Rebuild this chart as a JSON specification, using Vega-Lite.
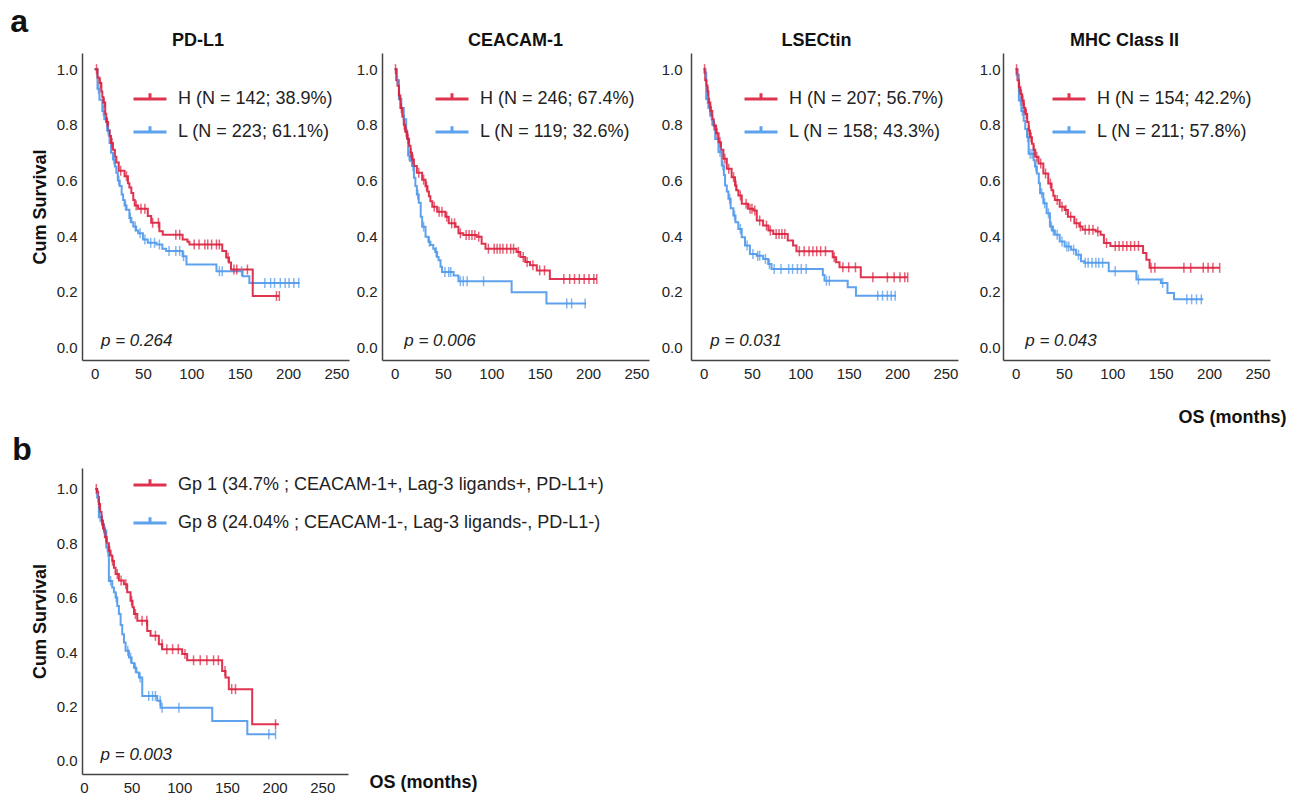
{
"$schema": "https://vega.github.io/schema/vega-lite/v6.json",
"background": "white",
"padding": {"left": 10, "top": 6, "right": 5, "bottom": 5},
"config": {
  "font": "Liberation Sans",
  "view": {"stroke": null},
  "axis": {"domainColor": "#444", "domainWidth": 1.5, "ticks": false, "grid": false, "labelFont": "Liberation Sans", "labelFontSize": 15, "labelColor": "#222", "labelFlush": false, "titleFont": "Liberation Sans", "titleFontSize": 18, "titleFontWeight": "bold", "titleColor": "#111"},
  "title": {"font": "Liberation Sans", "color": "#111"},
  "legend": {"labelFont": "Liberation Sans"}
},
"datasets": {
"steps": [
{"p":"PD-L1","g":"L","t":0,"s":1},{"p":"PD-L1","g":"L","t":3,"s":0.93},{"p":"PD-L1","g":"L","t":5,"s":0.89},{"p":"PD-L1","g":"L","t":8,"s":0.85},{"p":"PD-L1","g":"L","t":10,"s":0.82},{"p":"PD-L1","g":"L","t":13,"s":0.78},{"p":"PD-L1","g":"L","t":15.5,"s":0.735},{"p":"PD-L1","g":"L","t":17,"s":0.7},{"p":"PD-L1","g":"L","t":19,"s":0.675},{"p":"PD-L1","g":"L","t":21,"s":0.65},{"p":"PD-L1","g":"L","t":22.5,"s":0.628},{"p":"PD-L1","g":"L","t":24,"s":0.6},{"p":"PD-L1","g":"L","t":26,"s":0.58},{"p":"PD-L1","g":"L","t":28,"s":0.55},{"p":"PD-L1","g":"L","t":29.5,"s":0.53},{"p":"PD-L1","g":"L","t":31,"s":0.51},{"p":"PD-L1","g":"L","t":33,"s":0.495},{"p":"PD-L1","g":"L","t":36,"s":0.465},{"p":"PD-L1","g":"L","t":38,"s":0.45},{"p":"PD-L1","g":"L","t":40,"s":0.435},{"p":"PD-L1","g":"L","t":43,"s":0.42},{"p":"PD-L1","g":"L","t":45,"s":0.41},{"p":"PD-L1","g":"L","t":50,"s":0.388},{"p":"PD-L1","g":"L","t":55,"s":0.376},{"p":"PD-L1","g":"L","t":64,"s":0.37},{"p":"PD-L1","g":"L","t":70,"s":0.355},{"p":"PD-L1","g":"L","t":74,"s":0.347},{"p":"PD-L1","g":"L","t":91,"s":0.328},{"p":"PD-L1","g":"L","t":95,"s":0.298},{"p":"PD-L1","g":"L","t":126,"s":0.274},{"p":"PD-L1","g":"L","t":153,"s":0.256},{"p":"PD-L1","g":"L","t":160,"s":0.232},{"p":"PD-L1","g":"L","t":212,"s":0.232},
{"p":"PD-L1","g":"H","t":0,"s":1},{"p":"PD-L1","g":"H","t":3,"s":0.97},{"p":"PD-L1","g":"H","t":5,"s":0.95},{"p":"PD-L1","g":"H","t":7,"s":0.92},{"p":"PD-L1","g":"H","t":8,"s":0.9},{"p":"PD-L1","g":"H","t":9,"s":0.88},{"p":"PD-L1","g":"H","t":11,"s":0.84},{"p":"PD-L1","g":"H","t":12,"s":0.81},{"p":"PD-L1","g":"H","t":14,"s":0.78},{"p":"PD-L1","g":"H","t":15.5,"s":0.76},{"p":"PD-L1","g":"H","t":17,"s":0.735},{"p":"PD-L1","g":"H","t":19,"s":0.71},{"p":"PD-L1","g":"H","t":21,"s":0.685},{"p":"PD-L1","g":"H","t":22.5,"s":0.665},{"p":"PD-L1","g":"H","t":25,"s":0.635},{"p":"PD-L1","g":"H","t":31,"s":0.615},{"p":"PD-L1","g":"H","t":34.5,"s":0.59},{"p":"PD-L1","g":"H","t":36,"s":0.575},{"p":"PD-L1","g":"H","t":38,"s":0.555},{"p":"PD-L1","g":"H","t":40,"s":0.53},{"p":"PD-L1","g":"H","t":41.5,"s":0.51},{"p":"PD-L1","g":"H","t":45,"s":0.498},{"p":"PD-L1","g":"H","t":55,"s":0.472},{"p":"PD-L1","g":"H","t":58.5,"s":0.448},{"p":"PD-L1","g":"H","t":67,"s":0.418},{"p":"PD-L1","g":"H","t":70.5,"s":0.405},{"p":"PD-L1","g":"H","t":91,"s":0.388},{"p":"PD-L1","g":"H","t":96,"s":0.38},{"p":"PD-L1","g":"H","t":98,"s":0.37},{"p":"PD-L1","g":"H","t":132,"s":0.347},{"p":"PD-L1","g":"H","t":136,"s":0.323},{"p":"PD-L1","g":"H","t":139,"s":0.305},{"p":"PD-L1","g":"H","t":141,"s":0.28},{"p":"PD-L1","g":"H","t":163.5,"s":0.185},{"p":"PD-L1","g":"H","t":191,"s":0.185},
{"p":"CEACAM-1","g":"L","t":0,"s":1},{"p":"CEACAM-1","g":"L","t":2,"s":0.96},{"p":"CEACAM-1","g":"L","t":4.5,"s":0.893},{"p":"CEACAM-1","g":"L","t":7,"s":0.86},{"p":"CEACAM-1","g":"L","t":9.5,"s":0.82},{"p":"CEACAM-1","g":"L","t":12,"s":0.78},{"p":"CEACAM-1","g":"L","t":13,"s":0.75},{"p":"CEACAM-1","g":"L","t":14,"s":0.69},{"p":"CEACAM-1","g":"L","t":16,"s":0.67},{"p":"CEACAM-1","g":"L","t":18,"s":0.652},{"p":"CEACAM-1","g":"L","t":20,"s":0.61},{"p":"CEACAM-1","g":"L","t":21.5,"s":0.58},{"p":"CEACAM-1","g":"L","t":23,"s":0.55},{"p":"CEACAM-1","g":"L","t":25,"s":0.52},{"p":"CEACAM-1","g":"L","t":27,"s":0.47},{"p":"CEACAM-1","g":"L","t":28.5,"s":0.434},{"p":"CEACAM-1","g":"L","t":32,"s":0.398},{"p":"CEACAM-1","g":"L","t":35,"s":0.38},{"p":"CEACAM-1","g":"L","t":37,"s":0.368},{"p":"CEACAM-1","g":"L","t":40,"s":0.355},{"p":"CEACAM-1","g":"L","t":42,"s":0.343},{"p":"CEACAM-1","g":"L","t":44,"s":0.325},{"p":"CEACAM-1","g":"L","t":45.5,"s":0.313},{"p":"CEACAM-1","g":"L","t":47.5,"s":0.29},{"p":"CEACAM-1","g":"L","t":49,"s":0.271},{"p":"CEACAM-1","g":"L","t":61,"s":0.259},{"p":"CEACAM-1","g":"L","t":66,"s":0.238},{"p":"CEACAM-1","g":"L","t":121,"s":0.198},{"p":"CEACAM-1","g":"L","t":157,"s":0.158},{"p":"CEACAM-1","g":"L","t":198,"s":0.158},
{"p":"CEACAM-1","g":"H","t":0,"s":1},{"p":"CEACAM-1","g":"H","t":2,"s":0.96},{"p":"CEACAM-1","g":"H","t":3,"s":0.94},{"p":"CEACAM-1","g":"H","t":4.5,"s":0.905},{"p":"CEACAM-1","g":"H","t":6,"s":0.86},{"p":"CEACAM-1","g":"H","t":8,"s":0.83},{"p":"CEACAM-1","g":"H","t":9.5,"s":0.8},{"p":"CEACAM-1","g":"H","t":11,"s":0.775},{"p":"CEACAM-1","g":"H","t":13,"s":0.75},{"p":"CEACAM-1","g":"H","t":15,"s":0.725},{"p":"CEACAM-1","g":"H","t":16.5,"s":0.7},{"p":"CEACAM-1","g":"H","t":18,"s":0.675},{"p":"CEACAM-1","g":"H","t":20,"s":0.652},{"p":"CEACAM-1","g":"H","t":23,"s":0.628},{"p":"CEACAM-1","g":"H","t":28.5,"s":0.603},{"p":"CEACAM-1","g":"H","t":32,"s":0.579},{"p":"CEACAM-1","g":"H","t":34,"s":0.56},{"p":"CEACAM-1","g":"H","t":35.5,"s":0.543},{"p":"CEACAM-1","g":"H","t":37,"s":0.525},{"p":"CEACAM-1","g":"H","t":39,"s":0.506},{"p":"CEACAM-1","g":"H","t":44,"s":0.488},{"p":"CEACAM-1","g":"H","t":52.5,"s":0.47},{"p":"CEACAM-1","g":"H","t":56,"s":0.446},{"p":"CEACAM-1","g":"H","t":63,"s":0.434},{"p":"CEACAM-1","g":"H","t":66,"s":0.41},{"p":"CEACAM-1","g":"H","t":71,"s":0.404},{"p":"CEACAM-1","g":"H","t":85,"s":0.398},{"p":"CEACAM-1","g":"H","t":90,"s":0.373},{"p":"CEACAM-1","g":"H","t":94,"s":0.355},{"p":"CEACAM-1","g":"H","t":126,"s":0.343},{"p":"CEACAM-1","g":"H","t":130,"s":0.325},{"p":"CEACAM-1","g":"H","t":135,"s":0.307},{"p":"CEACAM-1","g":"H","t":140,"s":0.295},{"p":"CEACAM-1","g":"H","t":147,"s":0.277},{"p":"CEACAM-1","g":"H","t":160.5,"s":0.246},{"p":"CEACAM-1","g":"H","t":209,"s":0.246},
{"p":"LSECtin","g":"L","t":0,"s":1},{"p":"LSECtin","g":"L","t":1,"s":0.988},{"p":"LSECtin","g":"L","t":2.7,"s":0.893},{"p":"LSECtin","g":"L","t":5,"s":0.86},{"p":"LSECtin","g":"L","t":6.8,"s":0.833},{"p":"LSECtin","g":"L","t":9,"s":0.8},{"p":"LSECtin","g":"L","t":12,"s":0.749},{"p":"LSECtin","g":"L","t":15.4,"s":0.702},{"p":"LSECtin","g":"L","t":18.8,"s":0.654},{"p":"LSECtin","g":"L","t":21,"s":0.62},{"p":"LSECtin","g":"L","t":22.2,"s":0.582},{"p":"LSECtin","g":"L","t":24,"s":0.56},{"p":"LSECtin","g":"L","t":25.7,"s":0.534},{"p":"LSECtin","g":"L","t":28,"s":0.5},{"p":"LSECtin","g":"L","t":30.8,"s":0.474},{"p":"LSECtin","g":"L","t":33,"s":0.45},{"p":"LSECtin","g":"L","t":35.9,"s":0.426},{"p":"LSECtin","g":"L","t":39.4,"s":0.396},{"p":"LSECtin","g":"L","t":42.8,"s":0.366},{"p":"LSECtin","g":"L","t":47.9,"s":0.336},{"p":"LSECtin","g":"L","t":54.8,"s":0.33},{"p":"LSECtin","g":"L","t":61.6,"s":0.318},{"p":"LSECtin","g":"L","t":66.8,"s":0.3},{"p":"LSECtin","g":"L","t":70.2,"s":0.282},{"p":"LSECtin","g":"L","t":123.3,"s":0.26},{"p":"LSECtin","g":"L","t":125,"s":0.24},{"p":"LSECtin","g":"L","t":149,"s":0.216},{"p":"LSECtin","g":"L","t":157.5,"s":0.186},{"p":"LSECtin","g":"L","t":199,"s":0.186},
{"p":"LSECtin","g":"H","t":0,"s":1},{"p":"LSECtin","g":"H","t":1.7,"s":0.96},{"p":"LSECtin","g":"H","t":3,"s":0.941},{"p":"LSECtin","g":"H","t":4,"s":0.92},{"p":"LSECtin","g":"H","t":5,"s":0.88},{"p":"LSECtin","g":"H","t":7,"s":0.85},{"p":"LSECtin","g":"H","t":9,"s":0.82},{"p":"LSECtin","g":"H","t":10.5,"s":0.797},{"p":"LSECtin","g":"H","t":13,"s":0.77},{"p":"LSECtin","g":"H","t":15.5,"s":0.737},{"p":"LSECtin","g":"H","t":18,"s":0.71},{"p":"LSECtin","g":"H","t":20.5,"s":0.678},{"p":"LSECtin","g":"H","t":24,"s":0.642},{"p":"LSECtin","g":"H","t":29,"s":0.612},{"p":"LSECtin","g":"H","t":32.5,"s":0.582},{"p":"LSECtin","g":"H","t":34,"s":0.565},{"p":"LSECtin","g":"H","t":36,"s":0.546},{"p":"LSECtin","g":"H","t":39.5,"s":0.516},{"p":"LSECtin","g":"H","t":46,"s":0.498},{"p":"LSECtin","g":"H","t":51.5,"s":0.492},{"p":"LSECtin","g":"H","t":55,"s":0.456},{"p":"LSECtin","g":"H","t":61.5,"s":0.438},{"p":"LSECtin","g":"H","t":67,"s":0.42},{"p":"LSECtin","g":"H","t":72,"s":0.408},{"p":"LSECtin","g":"H","t":87,"s":0.384},{"p":"LSECtin","g":"H","t":92.5,"s":0.366},{"p":"LSECtin","g":"H","t":96,"s":0.346},{"p":"LSECtin","g":"H","t":133.5,"s":0.324},{"p":"LSECtin","g":"H","t":137,"s":0.306},{"p":"LSECtin","g":"H","t":140.5,"s":0.288},{"p":"LSECtin","g":"H","t":162.5,"s":0.252},{"p":"LSECtin","g":"H","t":211,"s":0.252},
{"p":"MHC","g":"L","t":0,"s":1},{"p":"MHC","g":"L","t":1,"s":0.98},{"p":"MHC","g":"L","t":3.4,"s":0.887},{"p":"MHC","g":"L","t":6,"s":0.85},{"p":"MHC","g":"L","t":8.4,"s":0.815},{"p":"MHC","g":"L","t":10,"s":0.785},{"p":"MHC","g":"L","t":11.8,"s":0.756},{"p":"MHC","g":"L","t":13.5,"s":0.696},{"p":"MHC","g":"L","t":18.6,"s":0.673},{"p":"MHC","g":"L","t":20,"s":0.65},{"p":"MHC","g":"L","t":22,"s":0.625},{"p":"MHC","g":"L","t":24,"s":0.59},{"p":"MHC","g":"L","t":25.3,"s":0.554},{"p":"MHC","g":"L","t":28.7,"s":0.518},{"p":"MHC","g":"L","t":32.1,"s":0.482},{"p":"MHC","g":"L","t":35.5,"s":0.435},{"p":"MHC","g":"L","t":38,"s":0.42},{"p":"MHC","g":"L","t":40.6,"s":0.405},{"p":"MHC","g":"L","t":45.6,"s":0.381},{"p":"MHC","g":"L","t":50.7,"s":0.363},{"p":"MHC","g":"L","t":57.4,"s":0.351},{"p":"MHC","g":"L","t":62.5,"s":0.333},{"p":"MHC","g":"L","t":67.6,"s":0.31},{"p":"MHC","g":"L","t":70.9,"s":0.304},{"p":"MHC","g":"L","t":96.3,"s":0.274},{"p":"MHC","g":"L","t":124.9,"s":0.244},{"p":"MHC","g":"L","t":150.2,"s":0.232},{"p":"MHC","g":"L","t":157,"s":0.196},{"p":"MHC","g":"L","t":163.8,"s":0.173},{"p":"MHC","g":"L","t":194,"s":0.173},
{"p":"MHC","g":"H","t":0,"s":1},{"p":"MHC","g":"H","t":2,"s":0.96},{"p":"MHC","g":"H","t":3.4,"s":0.935},{"p":"MHC","g":"H","t":5,"s":0.91},{"p":"MHC","g":"H","t":6.8,"s":0.887},{"p":"MHC","g":"H","t":8.5,"s":0.86},{"p":"MHC","g":"H","t":10.2,"s":0.839},{"p":"MHC","g":"H","t":12,"s":0.81},{"p":"MHC","g":"H","t":13.5,"s":0.78},{"p":"MHC","g":"H","t":15,"s":0.755},{"p":"MHC","g":"H","t":16.9,"s":0.732},{"p":"MHC","g":"H","t":18.5,"s":0.71},{"p":"MHC","g":"H","t":20.3,"s":0.685},{"p":"MHC","g":"H","t":23.7,"s":0.661},{"p":"MHC","g":"H","t":28.7,"s":0.625},{"p":"MHC","g":"H","t":33.8,"s":0.589},{"p":"MHC","g":"H","t":37.2,"s":0.565},{"p":"MHC","g":"H","t":39,"s":0.545},{"p":"MHC","g":"H","t":40.6,"s":0.53},{"p":"MHC","g":"H","t":45.6,"s":0.506},{"p":"MHC","g":"H","t":50.7,"s":0.494},{"p":"MHC","g":"H","t":54.1,"s":0.47},{"p":"MHC","g":"H","t":60.8,"s":0.446},{"p":"MHC","g":"H","t":65.9,"s":0.435},{"p":"MHC","g":"H","t":69.3,"s":0.423},{"p":"MHC","g":"H","t":82.8,"s":0.417},{"p":"MHC","g":"H","t":87.9,"s":0.405},{"p":"MHC","g":"H","t":91.3,"s":0.375},{"p":"MHC","g":"H","t":98,"s":0.365},{"p":"MHC","g":"H","t":131.8,"s":0.339},{"p":"MHC","g":"H","t":135.2,"s":0.315},{"p":"MHC","g":"H","t":138.5,"s":0.286},{"p":"MHC","g":"H","t":211,"s":0.286},
{"p":"Gp","g":"G8","t":12,"s":1},{"p":"Gp","g":"G8","t":13.9,"s":0.969},{"p":"Gp","g":"G8","t":15.7,"s":0.896},{"p":"Gp","g":"G8","t":19,"s":0.87},{"p":"Gp","g":"G8","t":21,"s":0.847},{"p":"Gp","g":"G8","t":23.5,"s":0.785},{"p":"Gp","g":"G8","t":25.6,"s":0.754},{"p":"Gp","g":"G8","t":26.2,"s":0.662},{"p":"Gp","g":"G8","t":29.7,"s":0.638},{"p":"Gp","g":"G8","t":31.5,"s":0.62},{"p":"Gp","g":"G8","t":33.2,"s":0.601},{"p":"Gp","g":"G8","t":35,"s":0.57},{"p":"Gp","g":"G8","t":36.7,"s":0.54},{"p":"Gp","g":"G8","t":38.5,"s":0.5},{"p":"Gp","g":"G8","t":40.2,"s":0.466},{"p":"Gp","g":"G8","t":42,"s":0.435},{"p":"Gp","g":"G8","t":43.7,"s":0.405},{"p":"Gp","g":"G8","t":47.2,"s":0.38},{"p":"Gp","g":"G8","t":50,"s":0.36},{"p":"Gp","g":"G8","t":52.5,"s":0.343},{"p":"Gp","g":"G8","t":55,"s":0.325},{"p":"Gp","g":"G8","t":57.7,"s":0.307},{"p":"Gp","g":"G8","t":61.2,"s":0.239},{"p":"Gp","g":"G8","t":76.9,"s":0.221},{"p":"Gp","g":"G8","t":80.4,"s":0.196},{"p":"Gp","g":"G8","t":134.6,"s":0.147},{"p":"Gp","g":"G8","t":171.4,"s":0.098},{"p":"Gp","g":"G8","t":201,"s":0.098},
{"p":"Gp","g":"G1","t":12,"s":1},{"p":"Gp","g":"G1","t":13.9,"s":0.99},{"p":"Gp","g":"G1","t":15,"s":0.97},{"p":"Gp","g":"G1","t":15.7,"s":0.945},{"p":"Gp","g":"G1","t":17,"s":0.915},{"p":"Gp","g":"G1","t":18.5,"s":0.884},{"p":"Gp","g":"G1","t":20,"s":0.855},{"p":"Gp","g":"G1","t":22,"s":0.822},{"p":"Gp","g":"G1","t":24,"s":0.8},{"p":"Gp","g":"G1","t":26.2,"s":0.773},{"p":"Gp","g":"G1","t":28,"s":0.755},{"p":"Gp","g":"G1","t":29.7,"s":0.736},{"p":"Gp","g":"G1","t":31.5,"s":0.71},{"p":"Gp","g":"G1","t":33.2,"s":0.687},{"p":"Gp","g":"G1","t":36.7,"s":0.663},{"p":"Gp","g":"G1","t":41.9,"s":0.65},{"p":"Gp","g":"G1","t":45.4,"s":0.62},{"p":"Gp","g":"G1","t":48.9,"s":0.589},{"p":"Gp","g":"G1","t":51,"s":0.565},{"p":"Gp","g":"G1","t":52.5,"s":0.54},{"p":"Gp","g":"G1","t":56,"s":0.515},{"p":"Gp","g":"G1","t":66.4,"s":0.478},{"p":"Gp","g":"G1","t":69.9,"s":0.46},{"p":"Gp","g":"G1","t":78.6,"s":0.429},{"p":"Gp","g":"G1","t":82.1,"s":0.411},{"p":"Gp","g":"G1","t":103.1,"s":0.393},{"p":"Gp","g":"G1","t":108.3,"s":0.37},{"p":"Gp","g":"G1","t":145,"s":0.331},{"p":"Gp","g":"G1","t":148.5,"s":0.307},{"p":"Gp","g":"G1","t":152,"s":0.264},{"p":"Gp","g":"G1","t":176.5,"s":0.135},{"p":"Gp","g":"G1","t":204.5,"s":0.135}
],
"cens": [
{"p":"PD-L1","g":"L","t":4,"s":0.93},{"p":"PD-L1","g":"L","t":9,"s":0.85},{"p":"PD-L1","g":"L","t":14,"s":0.78},{"p":"PD-L1","g":"L","t":20,"s":0.675},{"p":"PD-L1","g":"L","t":25,"s":0.6},{"p":"PD-L1","g":"L","t":32,"s":0.51},{"p":"PD-L1","g":"L","t":37,"s":0.465},{"p":"PD-L1","g":"L","t":42,"s":0.435},{"p":"PD-L1","g":"L","t":47,"s":0.41},{"p":"PD-L1","g":"L","t":52,"s":0.388},{"p":"PD-L1","g":"L","t":58,"s":0.376},{"p":"PD-L1","g":"L","t":62,"s":0.376},{"p":"PD-L1","g":"L","t":67,"s":0.37},{"p":"PD-L1","g":"L","t":77,"s":0.347},{"p":"PD-L1","g":"L","t":84,"s":0.347},{"p":"PD-L1","g":"L","t":88,"s":0.347},{"p":"PD-L1","g":"L","t":92,"s":0.328},{"p":"PD-L1","g":"L","t":129,"s":0.274},{"p":"PD-L1","g":"L","t":132,"s":0.274},{"p":"PD-L1","g":"L","t":152,"s":0.274},{"p":"PD-L1","g":"L","t":176,"s":0.232},{"p":"PD-L1","g":"L","t":182,"s":0.232},{"p":"PD-L1","g":"L","t":186,"s":0.232},{"p":"PD-L1","g":"L","t":192,"s":0.232},{"p":"PD-L1","g":"L","t":197,"s":0.232},{"p":"PD-L1","g":"L","t":201,"s":0.232},{"p":"PD-L1","g":"L","t":206,"s":0.232},{"p":"PD-L1","g":"L","t":211,"s":0.232},
{"p":"PD-L1","g":"H","t":2,"s":1},{"p":"PD-L1","g":"H","t":6,"s":0.95},{"p":"PD-L1","g":"H","t":10,"s":0.88},{"p":"PD-L1","g":"H","t":13,"s":0.81},{"p":"PD-L1","g":"H","t":18,"s":0.735},{"p":"PD-L1","g":"H","t":27,"s":0.635},{"p":"PD-L1","g":"H","t":33,"s":0.615},{"p":"PD-L1","g":"H","t":43,"s":0.51},{"p":"PD-L1","g":"H","t":48,"s":0.498},{"p":"PD-L1","g":"H","t":52,"s":0.498},{"p":"PD-L1","g":"H","t":60,"s":0.448},{"p":"PD-L1","g":"H","t":66,"s":0.448},{"p":"PD-L1","g":"H","t":84,"s":0.405},{"p":"PD-L1","g":"H","t":88,"s":0.405},{"p":"PD-L1","g":"H","t":103,"s":0.37},{"p":"PD-L1","g":"H","t":108,"s":0.37},{"p":"PD-L1","g":"H","t":114,"s":0.37},{"p":"PD-L1","g":"H","t":117,"s":0.37},{"p":"PD-L1","g":"H","t":121,"s":0.37},{"p":"PD-L1","g":"H","t":126,"s":0.37},{"p":"PD-L1","g":"H","t":129,"s":0.37},{"p":"PD-L1","g":"H","t":138,"s":0.323},{"p":"PD-L1","g":"H","t":144,"s":0.28},{"p":"PD-L1","g":"H","t":147,"s":0.28},{"p":"PD-L1","g":"H","t":158,"s":0.28},{"p":"PD-L1","g":"H","t":188,"s":0.185},{"p":"PD-L1","g":"H","t":191,"s":0.185},
{"p":"CEACAM-1","g":"L","t":3,"s":0.96},{"p":"CEACAM-1","g":"L","t":10,"s":0.82},{"p":"CEACAM-1","g":"L","t":15,"s":0.69},{"p":"CEACAM-1","g":"L","t":19,"s":0.652},{"p":"CEACAM-1","g":"L","t":24,"s":0.55},{"p":"CEACAM-1","g":"L","t":30,"s":0.434},{"p":"CEACAM-1","g":"L","t":36,"s":0.38},{"p":"CEACAM-1","g":"L","t":43,"s":0.343},{"p":"CEACAM-1","g":"L","t":52,"s":0.271},{"p":"CEACAM-1","g":"L","t":56,"s":0.271},{"p":"CEACAM-1","g":"L","t":58,"s":0.271},{"p":"CEACAM-1","g":"L","t":68,"s":0.238},{"p":"CEACAM-1","g":"L","t":71,"s":0.238},{"p":"CEACAM-1","g":"L","t":75,"s":0.238},{"p":"CEACAM-1","g":"L","t":92,"s":0.238},{"p":"CEACAM-1","g":"L","t":178,"s":0.158},{"p":"CEACAM-1","g":"L","t":183,"s":0.158},{"p":"CEACAM-1","g":"L","t":197,"s":0.158},
{"p":"CEACAM-1","g":"H","t":1,"s":1},{"p":"CEACAM-1","g":"H","t":5,"s":0.905},{"p":"CEACAM-1","g":"H","t":7,"s":0.86},{"p":"CEACAM-1","g":"H","t":10,"s":0.8},{"p":"CEACAM-1","g":"H","t":12,"s":0.775},{"p":"CEACAM-1","g":"H","t":14,"s":0.75},{"p":"CEACAM-1","g":"H","t":17,"s":0.7},{"p":"CEACAM-1","g":"H","t":19,"s":0.675},{"p":"CEACAM-1","g":"H","t":25,"s":0.628},{"p":"CEACAM-1","g":"H","t":30,"s":0.603},{"p":"CEACAM-1","g":"H","t":33,"s":0.579},{"p":"CEACAM-1","g":"H","t":41,"s":0.506},{"p":"CEACAM-1","g":"H","t":46,"s":0.488},{"p":"CEACAM-1","g":"H","t":49,"s":0.488},{"p":"CEACAM-1","g":"H","t":54,"s":0.47},{"p":"CEACAM-1","g":"H","t":59,"s":0.446},{"p":"CEACAM-1","g":"H","t":62,"s":0.446},{"p":"CEACAM-1","g":"H","t":68,"s":0.41},{"p":"CEACAM-1","g":"H","t":74,"s":0.404},{"p":"CEACAM-1","g":"H","t":77,"s":0.404},{"p":"CEACAM-1","g":"H","t":80,"s":0.404},{"p":"CEACAM-1","g":"H","t":83,"s":0.404},{"p":"CEACAM-1","g":"H","t":87,"s":0.398},{"p":"CEACAM-1","g":"H","t":97,"s":0.355},{"p":"CEACAM-1","g":"H","t":103,"s":0.355},{"p":"CEACAM-1","g":"H","t":106,"s":0.355},{"p":"CEACAM-1","g":"H","t":109,"s":0.355},{"p":"CEACAM-1","g":"H","t":112,"s":0.355},{"p":"CEACAM-1","g":"H","t":116,"s":0.355},{"p":"CEACAM-1","g":"H","t":120,"s":0.355},{"p":"CEACAM-1","g":"H","t":123,"s":0.355},{"p":"CEACAM-1","g":"H","t":128,"s":0.343},{"p":"CEACAM-1","g":"H","t":133,"s":0.325},{"p":"CEACAM-1","g":"H","t":137,"s":0.307},{"p":"CEACAM-1","g":"H","t":143,"s":0.295},{"p":"CEACAM-1","g":"H","t":150,"s":0.277},{"p":"CEACAM-1","g":"H","t":155,"s":0.277},{"p":"CEACAM-1","g":"H","t":175,"s":0.246},{"p":"CEACAM-1","g":"H","t":181,"s":0.246},{"p":"CEACAM-1","g":"H","t":186,"s":0.246},{"p":"CEACAM-1","g":"H","t":191,"s":0.246},{"p":"CEACAM-1","g":"H","t":196,"s":0.246},{"p":"CEACAM-1","g":"H","t":201,"s":0.246},{"p":"CEACAM-1","g":"H","t":206,"s":0.246},{"p":"CEACAM-1","g":"H","t":209,"s":0.246},
{"p":"LSECtin","g":"L","t":2,"s":0.988},{"p":"LSECtin","g":"L","t":4,"s":0.893},{"p":"LSECtin","g":"L","t":8,"s":0.833},{"p":"LSECtin","g":"L","t":11,"s":0.8},{"p":"LSECtin","g":"L","t":17,"s":0.702},{"p":"LSECtin","g":"L","t":20,"s":0.654},{"p":"LSECtin","g":"L","t":27,"s":0.534},{"p":"LSECtin","g":"L","t":32,"s":0.474},{"p":"LSECtin","g":"L","t":38,"s":0.426},{"p":"LSECtin","g":"L","t":45,"s":0.366},{"p":"LSECtin","g":"L","t":51,"s":0.336},{"p":"LSECtin","g":"L","t":56,"s":0.33},{"p":"LSECtin","g":"L","t":58,"s":0.33},{"p":"LSECtin","g":"L","t":64,"s":0.318},{"p":"LSECtin","g":"L","t":68,"s":0.3},{"p":"LSECtin","g":"L","t":73,"s":0.282},{"p":"LSECtin","g":"L","t":80,"s":0.282},{"p":"LSECtin","g":"L","t":88,"s":0.282},{"p":"LSECtin","g":"L","t":92,"s":0.282},{"p":"LSECtin","g":"L","t":97,"s":0.282},{"p":"LSECtin","g":"L","t":101,"s":0.282},{"p":"LSECtin","g":"L","t":106,"s":0.282},{"p":"LSECtin","g":"L","t":127,"s":0.24},{"p":"LSECtin","g":"L","t":130,"s":0.24},{"p":"LSECtin","g":"L","t":180,"s":0.186},{"p":"LSECtin","g":"L","t":185,"s":0.186},{"p":"LSECtin","g":"L","t":190,"s":0.186},{"p":"LSECtin","g":"L","t":194,"s":0.186},{"p":"LSECtin","g":"L","t":198,"s":0.186},
{"p":"LSECtin","g":"H","t":1,"s":1},{"p":"LSECtin","g":"H","t":4.5,"s":0.92},{"p":"LSECtin","g":"H","t":6,"s":0.88},{"p":"LSECtin","g":"H","t":8,"s":0.85},{"p":"LSECtin","g":"H","t":11,"s":0.797},{"p":"LSECtin","g":"H","t":14,"s":0.77},{"p":"LSECtin","g":"H","t":17,"s":0.737},{"p":"LSECtin","g":"H","t":22,"s":0.678},{"p":"LSECtin","g":"H","t":26,"s":0.642},{"p":"LSECtin","g":"H","t":31,"s":0.612},{"p":"LSECtin","g":"H","t":33.5,"s":0.582},{"p":"LSECtin","g":"H","t":38,"s":0.546},{"p":"LSECtin","g":"H","t":44,"s":0.516},{"p":"LSECtin","g":"H","t":48,"s":0.498},{"p":"LSECtin","g":"H","t":50,"s":0.498},{"p":"LSECtin","g":"H","t":53,"s":0.492},{"p":"LSECtin","g":"H","t":58,"s":0.456},{"p":"LSECtin","g":"H","t":65,"s":0.438},{"p":"LSECtin","g":"H","t":69,"s":0.42},{"p":"LSECtin","g":"H","t":75,"s":0.408},{"p":"LSECtin","g":"H","t":78,"s":0.408},{"p":"LSECtin","g":"H","t":81,"s":0.408},{"p":"LSECtin","g":"H","t":84,"s":0.408},{"p":"LSECtin","g":"H","t":99,"s":0.346},{"p":"LSECtin","g":"H","t":104,"s":0.346},{"p":"LSECtin","g":"H","t":109,"s":0.346},{"p":"LSECtin","g":"H","t":113,"s":0.346},{"p":"LSECtin","g":"H","t":117,"s":0.346},{"p":"LSECtin","g":"H","t":121,"s":0.346},{"p":"LSECtin","g":"H","t":126,"s":0.346},{"p":"LSECtin","g":"H","t":135,"s":0.324},{"p":"LSECtin","g":"H","t":144,"s":0.288},{"p":"LSECtin","g":"H","t":150,"s":0.288},{"p":"LSECtin","g":"H","t":157,"s":0.288},{"p":"LSECtin","g":"H","t":175,"s":0.252},{"p":"LSECtin","g":"H","t":190,"s":0.252},{"p":"LSECtin","g":"H","t":197,"s":0.252},{"p":"LSECtin","g":"H","t":203,"s":0.252},{"p":"LSECtin","g":"H","t":208,"s":0.252},{"p":"LSECtin","g":"H","t":211,"s":0.252},
{"p":"MHC","g":"L","t":2,"s":0.98},{"p":"MHC","g":"L","t":5,"s":0.887},{"p":"MHC","g":"L","t":7,"s":0.85},{"p":"MHC","g":"L","t":12.5,"s":0.756},{"p":"MHC","g":"L","t":15,"s":0.696},{"p":"MHC","g":"L","t":17,"s":0.696},{"p":"MHC","g":"L","t":21,"s":0.65},{"p":"MHC","g":"L","t":27,"s":0.554},{"p":"MHC","g":"L","t":30,"s":0.518},{"p":"MHC","g":"L","t":34,"s":0.482},{"p":"MHC","g":"L","t":37,"s":0.435},{"p":"MHC","g":"L","t":39,"s":0.42},{"p":"MHC","g":"L","t":43,"s":0.405},{"p":"MHC","g":"L","t":48,"s":0.381},{"p":"MHC","g":"L","t":53,"s":0.363},{"p":"MHC","g":"L","t":55,"s":0.363},{"p":"MHC","g":"L","t":60,"s":0.351},{"p":"MHC","g":"L","t":65,"s":0.333},{"p":"MHC","g":"L","t":72,"s":0.304},{"p":"MHC","g":"L","t":75,"s":0.304},{"p":"MHC","g":"L","t":79,"s":0.304},{"p":"MHC","g":"L","t":83,"s":0.304},{"p":"MHC","g":"L","t":86,"s":0.304},{"p":"MHC","g":"L","t":90,"s":0.304},{"p":"MHC","g":"L","t":103,"s":0.274},{"p":"MHC","g":"L","t":127,"s":0.244},{"p":"MHC","g":"L","t":152,"s":0.232},{"p":"MHC","g":"L","t":177,"s":0.173},{"p":"MHC","g":"L","t":182,"s":0.173},{"p":"MHC","g":"L","t":187,"s":0.173},{"p":"MHC","g":"L","t":192,"s":0.173},
{"p":"MHC","g":"H","t":1,"s":1},{"p":"MHC","g":"H","t":4,"s":0.935},{"p":"MHC","g":"H","t":6,"s":0.91},{"p":"MHC","g":"H","t":7.5,"s":0.887},{"p":"MHC","g":"H","t":9,"s":0.86},{"p":"MHC","g":"H","t":11,"s":0.839},{"p":"MHC","g":"H","t":14,"s":0.78},{"p":"MHC","g":"H","t":16,"s":0.755},{"p":"MHC","g":"H","t":19,"s":0.71},{"p":"MHC","g":"H","t":22,"s":0.685},{"p":"MHC","g":"H","t":26,"s":0.661},{"p":"MHC","g":"H","t":31,"s":0.625},{"p":"MHC","g":"H","t":36,"s":0.589},{"p":"MHC","g":"H","t":43,"s":0.53},{"p":"MHC","g":"H","t":48,"s":0.506},{"p":"MHC","g":"H","t":52,"s":0.494},{"p":"MHC","g":"H","t":57,"s":0.47},{"p":"MHC","g":"H","t":63,"s":0.446},{"p":"MHC","g":"H","t":67,"s":0.435},{"p":"MHC","g":"H","t":72,"s":0.423},{"p":"MHC","g":"H","t":76,"s":0.423},{"p":"MHC","g":"H","t":80,"s":0.423},{"p":"MHC","g":"H","t":85,"s":0.417},{"p":"MHC","g":"H","t":94,"s":0.375},{"p":"MHC","g":"H","t":103,"s":0.365},{"p":"MHC","g":"H","t":107,"s":0.365},{"p":"MHC","g":"H","t":111,"s":0.365},{"p":"MHC","g":"H","t":115,"s":0.365},{"p":"MHC","g":"H","t":119,"s":0.365},{"p":"MHC","g":"H","t":123,"s":0.365},{"p":"MHC","g":"H","t":127,"s":0.365},{"p":"MHC","g":"H","t":140,"s":0.286},{"p":"MHC","g":"H","t":144,"s":0.286},{"p":"MHC","g":"H","t":174,"s":0.286},{"p":"MHC","g":"H","t":181,"s":0.286},{"p":"MHC","g":"H","t":194,"s":0.286},{"p":"MHC","g":"H","t":199,"s":0.286},{"p":"MHC","g":"H","t":204,"s":0.286},{"p":"MHC","g":"H","t":211,"s":0.286},
{"p":"Gp","g":"G8","t":14.5,"s":0.969},{"p":"Gp","g":"G8","t":17,"s":0.896},{"p":"Gp","g":"G8","t":22,"s":0.847},{"p":"Gp","g":"G8","t":24.5,"s":0.785},{"p":"Gp","g":"G8","t":28,"s":0.662},{"p":"Gp","g":"G8","t":34,"s":0.601},{"p":"Gp","g":"G8","t":46,"s":0.405},{"p":"Gp","g":"G8","t":49,"s":0.38},{"p":"Gp","g":"G8","t":54,"s":0.343},{"p":"Gp","g":"G8","t":59,"s":0.307},{"p":"Gp","g":"G8","t":68,"s":0.239},{"p":"Gp","g":"G8","t":72,"s":0.239},{"p":"Gp","g":"G8","t":75,"s":0.239},{"p":"Gp","g":"G8","t":80,"s":0.221},{"p":"Gp","g":"G8","t":82,"s":0.196},{"p":"Gp","g":"G8","t":99.6,"s":0.196},{"p":"Gp","g":"G8","t":194,"s":0.098},{"p":"Gp","g":"G8","t":201,"s":0.098},
{"p":"Gp","g":"G1","t":13,"s":1},{"p":"Gp","g":"G1","t":16,"s":0.945},{"p":"Gp","g":"G1","t":19,"s":0.884},{"p":"Gp","g":"G1","t":21,"s":0.855},{"p":"Gp","g":"G1","t":23,"s":0.822},{"p":"Gp","g":"G1","t":27,"s":0.773},{"p":"Gp","g":"G1","t":30,"s":0.736},{"p":"Gp","g":"G1","t":35,"s":0.687},{"p":"Gp","g":"G1","t":39,"s":0.663},{"p":"Gp","g":"G1","t":44,"s":0.65},{"p":"Gp","g":"G1","t":50,"s":0.589},{"p":"Gp","g":"G1","t":54,"s":0.54},{"p":"Gp","g":"G1","t":61,"s":0.515},{"p":"Gp","g":"G1","t":66,"s":0.515},{"p":"Gp","g":"G1","t":75,"s":0.46},{"p":"Gp","g":"G1","t":82,"s":0.429},{"p":"Gp","g":"G1","t":87,"s":0.411},{"p":"Gp","g":"G1","t":93,"s":0.411},{"p":"Gp","g":"G1","t":99,"s":0.411},{"p":"Gp","g":"G1","t":106,"s":0.393},{"p":"Gp","g":"G1","t":115,"s":0.37},{"p":"Gp","g":"G1","t":122,"s":0.37},{"p":"Gp","g":"G1","t":129,"s":0.37},{"p":"Gp","g":"G1","t":136,"s":0.37},{"p":"Gp","g":"G1","t":141,"s":0.37},{"p":"Gp","g":"G1","t":148,"s":0.331},{"p":"Gp","g":"G1","t":155,"s":0.264},{"p":"Gp","g":"G1","t":159,"s":0.264},{"p":"Gp","g":"G1","t":201,"s":0.135}
]
},
"resolve": {"scale": {"color": "independent"}, "legend": {"color": "independent"}},
"spacing": 8,
"vconcat": [
{
"title": {"text": "a", "anchor": "start", "fontSize": 32, "fontWeight": "bold", "dx": -21, "offset": -7},
"spacing": 0,
"resolve": {"scale": {"color": "independent", "x": "independent", "y": "independent"}, "legend": {"color": "independent"}},
"hconcat": [
{
"width": 267, "height": 307,
"title": {"text": "PD-L1", "fontSize": 18, "fontWeight": "bold", "frame": "group", "dx": -17.5, "offset": 3},
"layer": [
{"data": {"name": "steps"}, "transform": [{"filter": "datum.p == 'PD-L1'"}],
 "mark": {"type": "line", "interpolate": "step-after", "strokeWidth": 2, "opacity": 0.9},
 "encoding": {
  "x": {"field": "t", "type": "quantitative", "scale": {"domain": [-13, 263], "nice": false, "zero": false}, "axis": {"values": [0,50,100,150,200,250], "title": null, "labelPadding": 6, "labelFontSize": 15}},
  "y": {"field": "s", "type": "quantitative", "scale": {"domain": [-0.045, 1.058], "nice": false, "zero": false}, "axis": {"values": [0,0.2,0.4,0.6,0.8,1], "format": ".1f", "title": "Cum Survival", "labelPadding": 5, "titlePadding": 7, "labelFontSize": 15}},
  "color": {"field": "g", "type": "nominal", "scale": {"domain": ["H","L"], "range": ["#dc1e3c","#4d97ea"]},
   "legend": {"orient": "none", "legendX": 50, "legendY": 28, "title": null, "symbolType": "M-1,0H1M0,0V-0.35", "symbolSize": 1089, "symbolStrokeWidth": 3, "labelFontSize": 18, "labelColor": "#222", "labelOffset": 10, "labelLimit": 600, "rowPadding": 6, "padding": 0,
   "labelExpr": "datum.value == 'H' ? 'H (N = 142; 38.9%)' : 'L (N = 223; 61.1%)'"}}
 }},
{"data": {"name": "cens"}, "transform": [{"filter": "datum.p == 'PD-L1'"}],
 "mark": {"type": "tick", "orient": "vertical", "size": 10, "thickness": 1.5},
 "encoding": {"x": {"field": "t", "type": "quantitative"}, "y": {"field": "s", "type": "quantitative"}, "color": {"field": "g", "type": "nominal"}}},
{"data": {"values": [{}]},
 "mark": {"type": "text", "text": "p = 0.264", "fontSize": 17, "fontStyle": "italic", "align": "left", "baseline": "alphabetic", "color": "#222"},
 "encoding": {"x": {"datum": 6.6}, "y": {"datum": 0.005}}}
]
},
{
"width": 267, "height": 307,
"title": {"text": "CEACAM-1", "fontSize": 18, "fontWeight": "bold", "frame": "group", "dx": 0, "offset": 3},
"layer": [
{"data": {"name": "steps"}, "transform": [{"filter": "datum.p == 'CEACAM-1'"}],
 "mark": {"type": "line", "interpolate": "step-after", "strokeWidth": 2, "opacity": 0.9},
 "encoding": {
  "x": {"field": "t", "type": "quantitative", "scale": {"domain": [-13, 263], "nice": false, "zero": false}, "axis": {"values": [0,50,100,150,200,250], "title": null, "labelPadding": 6, "labelFontSize": 15}},
  "y": {"field": "s", "type": "quantitative", "scale": {"domain": [-0.045, 1.058], "nice": false, "zero": false}, "axis": {"values": [0,0.2,0.4,0.6,0.8,1], "format": ".1f", "title": null, "labelPadding": 5, "minExtent": 33, "labelFontSize": 15}},
  "color": {"field": "g", "type": "nominal", "scale": {"domain": ["H","L"], "range": ["#dc1e3c","#4d97ea"]},
   "legend": {"orient": "none", "legendX": 52, "legendY": 28, "title": null, "symbolType": "M-1,0H1M0,0V-0.35", "symbolSize": 1089, "symbolStrokeWidth": 3, "labelFontSize": 18, "labelColor": "#222", "labelOffset": 10, "labelLimit": 600, "rowPadding": 6, "padding": 0,
   "labelExpr": "datum.value == 'H' ? 'H (N = 246; 67.4%)' : 'L (N = 119; 32.6%)'"}}
 }},
{"data": {"name": "cens"}, "transform": [{"filter": "datum.p == 'CEACAM-1'"}],
 "mark": {"type": "tick", "orient": "vertical", "size": 10, "thickness": 1.5},
 "encoding": {"x": {"field": "t", "type": "quantitative"}, "y": {"field": "s", "type": "quantitative"}, "color": {"field": "g", "type": "nominal"}}},
{"data": {"values": [{}]},
 "mark": {"type": "text", "text": "p = 0.006", "fontSize": 17, "fontStyle": "italic", "align": "left", "baseline": "alphabetic", "color": "#222"},
 "encoding": {"x": {"datum": 10}, "y": {"datum": 0.005}}}
]
},
{
"width": 267, "height": 307,
"title": {"text": "LSECtin", "fontSize": 18, "fontWeight": "bold", "frame": "group", "dx": -8, "offset": 3},
"layer": [
{"data": {"name": "steps"}, "transform": [{"filter": "datum.p == 'LSECtin'"}],
 "mark": {"type": "line", "interpolate": "step-after", "strokeWidth": 2, "opacity": 0.9},
 "encoding": {
  "x": {"field": "t", "type": "quantitative", "scale": {"domain": [-13, 263], "nice": false, "zero": false}, "axis": {"values": [0,50,100,150,200,250], "title": null, "labelPadding": 6, "labelFontSize": 15}},
  "y": {"field": "s", "type": "quantitative", "scale": {"domain": [-0.045, 1.058], "nice": false, "zero": false}, "axis": {"values": [0,0.2,0.4,0.6,0.8,1], "format": ".1f", "title": null, "labelPadding": 9, "minExtent": 42, "labelFontSize": 15}},
  "color": {"field": "g", "type": "nominal", "scale": {"domain": ["H","L"], "range": ["#dc1e3c","#4d97ea"]},
   "legend": {"orient": "none", "legendX": 52, "legendY": 28, "title": null, "symbolType": "M-1,0H1M0,0V-0.35", "symbolSize": 1089, "symbolStrokeWidth": 3, "labelFontSize": 18, "labelColor": "#222", "labelOffset": 10, "labelLimit": 600, "rowPadding": 6, "padding": 0,
   "labelExpr": "datum.value == 'H' ? 'H (N = 207; 56.7%)' : 'L (N = 158; 43.3%)'"}}
 }},
{"data": {"name": "cens"}, "transform": [{"filter": "datum.p == 'LSECtin'"}],
 "mark": {"type": "tick", "orient": "vertical", "size": 10, "thickness": 1.5},
 "encoding": {"x": {"field": "t", "type": "quantitative"}, "y": {"field": "s", "type": "quantitative"}, "color": {"field": "g", "type": "nominal"}}},
{"data": {"values": [{}]},
 "mark": {"type": "text", "text": "p = 0.031", "fontSize": 17, "fontStyle": "italic", "align": "left", "baseline": "alphabetic", "color": "#222"},
 "encoding": {"x": {"datum": 7}, "y": {"datum": 0.005}}}
]
},
{
"width": 267, "height": 307,
"title": {"text": "MHC Class II", "fontSize": 18, "fontWeight": "bold", "frame": "group", "dx": -12, "offset": 3},
"layer": [
{"data": {"name": "steps"}, "transform": [{"filter": "datum.p == 'MHC'"}],
 "mark": {"type": "line", "interpolate": "step-after", "strokeWidth": 2, "opacity": 0.9},
 "encoding": {
  "x": {"field": "t", "type": "quantitative", "scale": {"domain": [-13, 263], "nice": false, "zero": false}, "axis": {"values": [0,50,100,150,200,250], "title": "OS (months)", "labelPadding": 6, "labelFontSize": 15, "titleAnchor": "end", "titleAlign": "right", "titleX": 283, "titleY": 57, "titleBaseline": "middle"}},
  "y": {"field": "s", "type": "quantitative", "scale": {"domain": [-0.045, 1.058], "nice": false, "zero": false}, "axis": {"values": [0,0.2,0.4,0.6,0.8,1], "format": ".1f", "title": null, "labelPadding": 3, "minExtent": 45, "labelFontSize": 15}},
  "color": {"field": "g", "type": "nominal", "scale": {"domain": ["H","L"], "range": ["#dc1e3c","#4d97ea"]},
   "legend": {"orient": "none", "legendX": 48, "legendY": 28, "title": null, "symbolType": "M-1,0H1M0,0V-0.35", "symbolSize": 1089, "symbolStrokeWidth": 3, "labelFontSize": 18, "labelColor": "#222", "labelOffset": 10, "labelLimit": 600, "rowPadding": 6, "padding": 0,
   "labelExpr": "datum.value == 'H' ? 'H (N = 154; 42.2%)' : 'L (N = 211; 57.8%)'"}}
 }},
{"data": {"name": "cens"}, "transform": [{"filter": "datum.p == 'MHC'"}],
 "mark": {"type": "tick", "orient": "vertical", "size": 10, "thickness": 1.5},
 "encoding": {"x": {"field": "t", "type": "quantitative"}, "y": {"field": "s", "type": "quantitative"}, "color": {"field": "g", "type": "nominal"}}},
{"data": {"values": [{}]},
 "mark": {"type": "text", "text": "p = 0.043", "fontSize": 17, "fontStyle": "italic", "align": "left", "baseline": "alphabetic", "color": "#222"},
 "encoding": {"x": {"datum": 10}, "y": {"datum": 0.005}}}
]
}
]
},
{
"title": {"text": "b", "anchor": "start", "fontSize": 32, "fontWeight": "bold", "dx": -19, "offset": 0},
"spacing": 0,
"hconcat": [
{
"width": 266, "height": 306,
"layer": [
{"data": {"name": "steps"}, "transform": [{"filter": "datum.p == 'Gp'"}],
 "mark": {"type": "line", "interpolate": "step-after", "strokeWidth": 2, "opacity": 0.9},
 "encoding": {
  "x": {"field": "t", "type": "quantitative", "scale": {"domain": [-2, 277], "nice": false, "zero": false}, "axis": {"values": [0,50,100,150,200,250], "title": "OS (months)", "labelPadding": 6, "labelFontSize": 15, "titleAnchor": null, "titleAlign": "left", "titleX": 287, "titleY": 8, "titleBaseline": "middle"}},
  "y": {"field": "s", "type": "quantitative", "scale": {"domain": [-0.048, 1.077], "nice": false, "zero": false}, "axis": {"values": [0,0.2,0.4,0.6,0.8,1], "format": ".1f", "title": "Cum Survival", "labelPadding": 5, "titlePadding": 7, "labelFontSize": 15}},
  "color": {"field": "g", "type": "nominal", "scale": {"domain": ["G1","G8"], "range": ["#dc1e3c","#4d97ea"]},
   "legend": {"orient": "none", "legendX": 50, "legendY": -1, "title": null, "symbolType": "M-1,0H1M0,0V-0.35", "symbolSize": 1089, "symbolStrokeWidth": 3, "labelFontSize": 18, "labelColor": "#222", "labelOffset": 10, "labelLimit": 800, "rowPadding": 11, "padding": 0,
   "labelExpr": "datum.value == 'G1' ? 'Gp 1 (34.7% ; CEACAM-1+, Lag-3 ligands+, PD-L1+)' : 'Gp 8 (24.04% ; CEACAM-1-, Lag-3 ligands-, PD-L1-)'"}}
 }},
{"data": {"name": "cens"}, "transform": [{"filter": "datum.p == 'Gp'"}],
 "mark": {"type": "tick", "orient": "vertical", "size": 10, "thickness": 1.5},
 "encoding": {"x": {"field": "t", "type": "quantitative"}, "y": {"field": "s", "type": "quantitative"}, "color": {"field": "g", "type": "nominal"}}},
{"data": {"values": [{}]},
 "mark": {"type": "text", "text": "p = 0.003", "fontSize": 17, "fontStyle": "italic", "align": "left", "baseline": "alphabetic", "color": "#222"},
 "encoding": {"x": {"datum": 17.5}, "y": {"datum": 0.005}}}
]
}
]
}
]
}
